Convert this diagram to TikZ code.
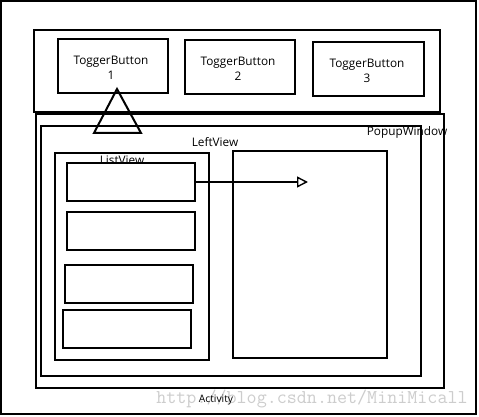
\documentclass[tikz,border=0pt]{standalone}
\usepackage{fontspec}
\setmainfont{Open Sans}
\usetikzlibrary{arrows.meta}
\definecolor{wmgray}{RGB}{205,205,205}
\begin{document}
\begin{tikzpicture}[x=1pt,y=-1pt,
  box/.style={draw=black,line width=2pt,inner sep=0pt,outer sep=0pt},
  wbox/.style={box,fill=white},
  lbl/.style={inner sep=0pt,font=\fontsize{11.8}{15.5}\selectfont,align=center},
  small/.style={inner sep=0pt,font=\fontsize{10.3}{12}\selectfont}
]
\useasboundingbox (0,0) rectangle (479,417);
\fill[white] (0,0) rectangle (479,417);
% watermark
\node[inner sep=0pt,text=wmgray,font=\ttfamily\fontsize{19.5}{19.5}\selectfont] (wm) at (312,399) {http://blog.csdn.net/MiniMicall};
% outer activity frame
\node[box,minimum width=475pt,minimum height=413pt] (activity) at (238.5,207.5) {};
% top bar
\node[box,minimum width=406pt,minimum height=82pt] (topbar) at (237,71) {};
\node[box,minimum width=110pt,minimum height=54pt] (b1) at (113,66) {};
\node[box,minimum width=110pt,minimum height=54pt] (b2) at (240,67) {};
\node[box,minimum width=111pt,minimum height=54pt] (b3) at (368.5,69) {};
\node[lbl] (t1) at (111,68) {ToggerButton\\1};
\node[lbl] (t2) at (238,69) {ToggerButton\\2};
\node[lbl] (t3) at (367,71) {ToggerButton\\3};
% popup window
\node[box,minimum width=408pt,minimum height=274pt] (popup) at (240,251) {};
\node[box,minimum width=380pt,minimum height=250pt] (inner) at (231,251) {};
% list view
\node[box,minimum width=154pt,minimum height=207pt] (listview) at (132,256.5) {};
\node[lbl] (lvlabel) at (122,160) {ListView};
\node[wbox,minimum width=128pt,minimum height=38pt] (i1) at (131,182) {};
\node[wbox,minimum width=128pt,minimum height=38pt] (i2) at (131,231) {};
\node[wbox,minimum width=128pt,minimum height=38pt] (i3) at (129,284) {};
\node[wbox,minimum width=128pt,minimum height=38pt] (i4) at (127,329) {};
% right view
\node[box,minimum width=154pt,minimum height=207pt] (right) at (310,254.5) {};
% labels
\node[lbl] (popuplabel) at (407,132) {PopupWindow};
\node[lbl] (leftlabel) at (215,142) {LeftView};
\node[small] (actlabel) at (216,400) {Activity};
% triangle
\coordinate (ta) at (117,89);
\coordinate (tb) at (94,133);
\coordinate (tc) at (141,133);
\draw[line width=2pt,line join=miter] (ta) -- (tb) -- (tc) -- cycle;
% arrow
\coordinate (aend) at (308,182);
\draw[line width=1.4pt,-{Triangle[open,length=11pt,width=11pt,line width=1.4pt]}] (i1.east |- aend) -- (aend);
\end{tikzpicture}
\end{document}
